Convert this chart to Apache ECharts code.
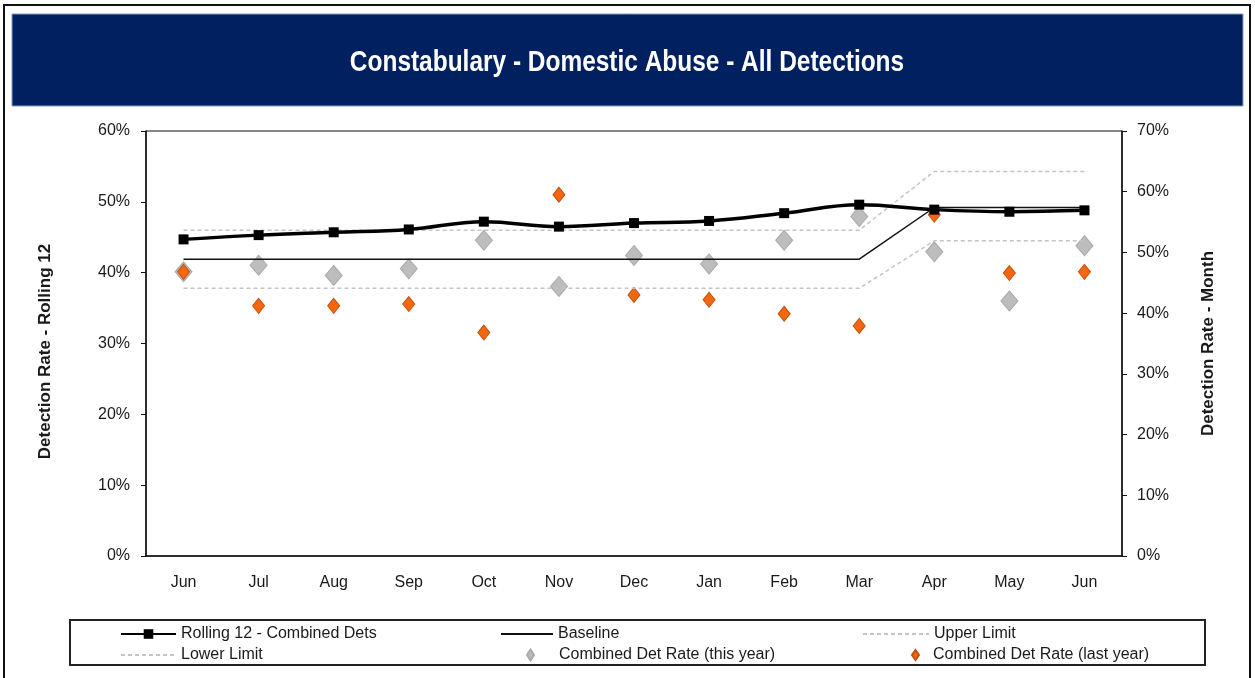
<!DOCTYPE html>
<html>
<head>
<meta charset="utf-8">
<title>Constabulary - Domestic Abuse - All Detections</title>
<script src="https://cdn.jsdelivr.net/npm/echarts@6/dist/echarts.min.js"></script>
<style>
  html, body { margin: 0; padding: 0; background: #fff; }
  #chart { width: 1255px; height: 678px; }
</style>
</head>
<body>
<div id="chart"></div>
<script>
// months along the x axis
var months = ['Jun', 'Jul', 'Aug', 'Sep', 'Oct', 'Nov', 'Dec', 'Jan', 'Feb', 'Mar', 'Apr', 'May', 'Jun'];

// left axis (rolling 12), percent
var rolling12 = [44.7, 45.3, 45.7, 46.1, 47.2, 46.5, 47.0, 47.3, 48.4, 49.6, 48.9, 48.6, 48.8];
var baseline = [41.9, 41.9, 41.9, 41.9, 41.9, 41.9, 41.9, 41.9, 41.9, 41.9, 49.2, 49.2, 49.2];
var upperLimit = [46.0, 46.0, 46.0, 46.0, 46.0, 46.0, 46.0, 46.0, 46.0, 46.0, 54.3, 54.3, 54.3];
var lowerLimit = [37.8, 37.8, 37.8, 37.8, 37.8, 37.8, 37.8, 37.8, 37.8, 37.8, 44.5, 44.5, 44.5];

// right axis (month), percent
var thisYear = [46.8, 47.9, 46.2, 47.3, 52.0, 44.4, 49.5, 48.1, 52.0, 55.9, 50.1, 42.0, 51.1];
var lastYear = [46.8, 41.2, 41.2, 41.5, 36.8, 59.5, 43.0, 42.2, 39.9, 37.9, 56.2, 46.6, 46.8];

var font = "'Liberation Sans', Arial, sans-serif";
var txt = '#1a1a1a';

var chart = echarts.init(document.getElementById('chart'));

// one legend per entry so each sits where it does in the original box
function oneLegend(item, left, top, w, h, gap) {
    return {
        data: [item],
        left: left,
        top: top,
        padding: 0,
        itemWidth: w,
        itemHeight: h || 12,
        textStyle: { fontFamily: font, fontSize: 16, color: txt, padding: [0, 0, 0, gap || 0] },
        selectedMode: false
    };
}
var noDot = { color: 'rgba(0,0,0,0)', borderWidth: 0 };

chart.setOption({
    animation: false,
    graphic: [
        {
            type: 'rect', z: -10,
            shape: { x: 4, y: 5, width: 1246, height: 700 },
            style: { fill: '#fff', stroke: '#111', lineWidth: 2 }
        },
        {
            type: 'rect', z: -9,
            shape: { x: 12, y: 14, width: 1231, height: 92 },
            style: { fill: '#002060', stroke: '#8a9cc0', lineWidth: 1 }
        },
        {
            type: 'text', z: 10,
            x: 627, y: 63, scaleX: 0.815,
            style: {
                text: 'Constabulary - Domestic Abuse - All Detections',
                font: 'bold 30px ' + font,
                fill: '#fff',
                textAlign: 'center',
                textVerticalAlign: 'middle'
            }
        },
        {
            type: 'rect', z: -9,
            shape: { x: 70, y: 620, width: 1135, height: 45 },
            style: { fill: '#fff', stroke: '#222', lineWidth: 2 }
        }
    ],
    legend: [
        oneLegend('Rolling 12 - Combined Dets', 120, 626, 55),
        oneLegend({ name: 'Lower Limit', itemStyle: noDot }, 120, 647, 55),
        oneLegend({ name: 'Baseline', itemStyle: noDot }, 500, 626, 52),
        oneLegend('Combined Det Rate (this year)', 526, 647, 7, 11, 20),
        oneLegend({ name: 'Upper Limit', itemStyle: noDot }, 862, 626, 66),
        oneLegend('Combined Det Rate (last year)', 911, 647, 7, 10, 9)
    ],
    grid: {
        left: 146, right: 133, top: 131, bottom: 122,
        show: true, borderColor: '#111', borderWidth: 1, backgroundColor: 'transparent'
    },
    xAxis: {
        type: 'category',
        data: months,
        boundaryGap: true,
        axisLine: { lineStyle: { color: '#111', width: 1.5 } },
        axisTick: { length: 6, lineStyle: { color: '#111' } },
        axisLabel: { margin: 19, fontFamily: font, fontSize: 16, color: txt }
    },
    yAxis: [
        {
            type: 'value',
            min: 0, max: 60, interval: 10,
            position: 'left',
            name: 'Detection Rate - Rolling 12',
            nameLocation: 'middle',
            nameRotate: 90,
            nameGap: 92,
            nameTextStyle: { fontFamily: font, fontSize: 17, fontWeight: 'bold', color: txt, padding: [0, 16, 0, 0] },
            axisLine: { show: true, lineStyle: { color: '#111', width: 1.5 } },
            axisTick: { show: true, length: 5, lineStyle: { color: '#111' } },
            axisLabel: { margin: 16, fontFamily: font, fontSize: 16, color: txt, formatter: '{value}%' },
            splitLine: { show: false }
        },
        {
            type: 'value',
            min: 0, max: 70, interval: 10,
            position: 'right',
            name: 'Detection Rate - Month',
            nameLocation: 'middle',
            nameRotate: 90,
            nameGap: 78,
            nameTextStyle: { fontFamily: font, fontSize: 17, fontWeight: 'bold', color: txt },
            axisLine: { show: true, lineStyle: { color: '#111', width: 1.5 } },
            axisTick: { show: true, length: 5, lineStyle: { color: '#111' } },
            axisLabel: { margin: 15, fontFamily: font, fontSize: 16, color: txt, formatter: '{value}%' },
            splitLine: { show: false }
        }
    ],
    series: [
        {
            name: 'Upper Limit',
            type: 'line',
            yAxisIndex: 0,
            data: upperLimit,
            symbol: 'none',
            lineStyle: { color: '#c4c4c4', width: 1.5, type: [4, 3] },
            itemStyle: { color: '#c4c4c4' }
        },
        {
            name: 'Lower Limit',
            type: 'line',
            yAxisIndex: 0,
            data: lowerLimit,
            symbol: 'none',
            lineStyle: { color: '#c4c4c4', width: 1.5, type: [4, 3] },
            itemStyle: { color: '#c4c4c4' }
        },
        {
            name: 'Baseline',
            type: 'line',
            yAxisIndex: 0,
            data: baseline,
            symbol: 'none',
            lineStyle: { color: '#111', width: 1.5 },
            itemStyle: { color: '#111' }
        },
        {
            name: 'Rolling 12 - Combined Dets',
            type: 'line',
            yAxisIndex: 0,
            data: rolling12,
            smooth: 0.4,
            symbol: 'rect',
            symbolSize: 10,
            lineStyle: { color: '#000', width: 3.5 },
            itemStyle: { color: '#000' }
        },
        {
            name: 'Combined Det Rate (this year)',
            type: 'scatter',
            yAxisIndex: 1,
            data: thisYear,
            symbol: 'diamond',
            symbolSize: [17, 20],
            itemStyle: { color: '#bdbdbd', borderColor: '#a9a9a9', borderWidth: 1, opacity: 1 }
        },
        {
            name: 'Combined Det Rate (last year)',
            type: 'scatter',
            yAxisIndex: 1,
            data: lastYear,
            symbol: 'diamond',
            symbolSize: [12, 15],
            itemStyle: { color: '#f26710', borderColor: '#c4520a', borderWidth: 1, opacity: 1 }
        }
    ]
});
</script>
</body>
</html>
